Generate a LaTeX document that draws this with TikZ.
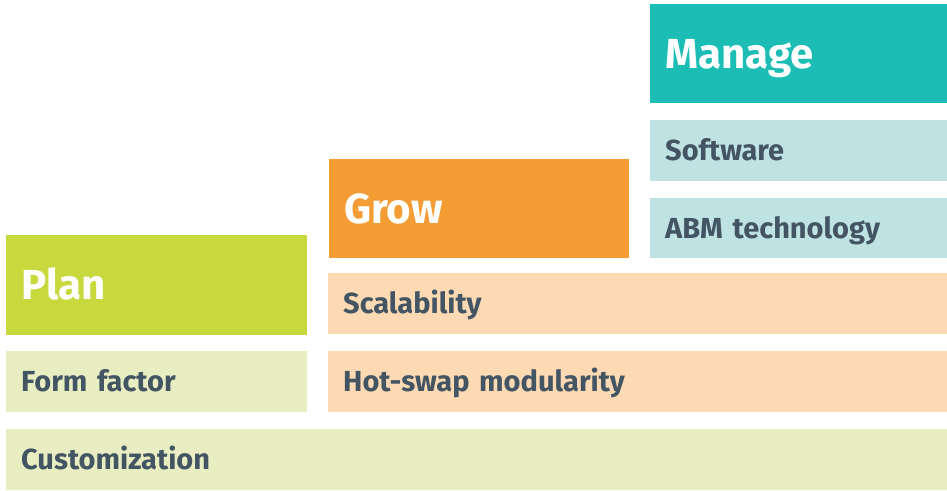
\documentclass[tikz,border=0pt]{standalone}
\usepackage{fontspec}
\setmainfont{Fira Sans}
\usetikzlibrary{positioning}

\definecolor{manageC}{RGB}{27,189,181}
\definecolor{manageL}{RGB}{191,227,227}
\definecolor{growC}{RGB}{244,157,52}
\definecolor{growL}{RGB}{253,217,180}
\definecolor{planC}{RGB}{200,217,62}
\definecolor{planL}{RGB}{232,238,194}
\definecolor{itemtext}{RGB}{67,85,99}

\tikzset{
  tier/.style={rectangle,fill=#1,anchor=north west,inner xsep=15pt,inner ysep=0pt,align=left},
  head/.style={text=white,font=\fontsize{42}{42}\selectfont\bfseries,text height=29pt,text depth=0pt},
  item/.style={text=itemtext,font=\fontsize{29}{29}\selectfont\bfseries,text height=20pt,text depth=0pt}
}

\begin{document}
\begin{tikzpicture}[x=1pt,y=-1pt]
 \useasboundingbox (0,0) rectangle (947,490);
 % Manage
 \node[tier=manageC,head,minimum width=297pt,minimum height=99pt,text width=267pt] (manage) at (650,4) {Manage};
 \node[tier=manageL,item,minimum width=297pt,minimum height=61pt,text width=267pt] (software) at (650,120) {Software};
 \node[tier=manageL,item,minimum width=297pt,minimum height=60pt,text width=267pt] (abm) at (650,198) {ABM technology};
 % Grow
 \node[tier=growC,head,minimum width=300pt,minimum height=99pt,text width=270pt] (grow) at (329,159) {Grow};
 \node[tier=growL,item,minimum width=619pt,minimum height=61pt,text width=589pt] (scal) at (328,273) {Scalability};
 \node[tier=growL,item,minimum width=619pt,minimum height=61pt,text width=589pt] (hotswap) at (328,351) {Hot-swap modularity};
 % Plan
 \node[tier=planC,head,minimum width=301pt,minimum height=100pt,text width=271pt] (plan) at (6,235) {Plan};
 \node[tier=planL,item,minimum width=301pt,minimum height=61pt,text width=271pt] (form) at (6,351) {Form factor};
 \node[tier=planL,item,minimum width=941pt,minimum height=61pt,text width=911pt] (custom) at (6,429) {Customization};
\end{tikzpicture}
\end{document}
